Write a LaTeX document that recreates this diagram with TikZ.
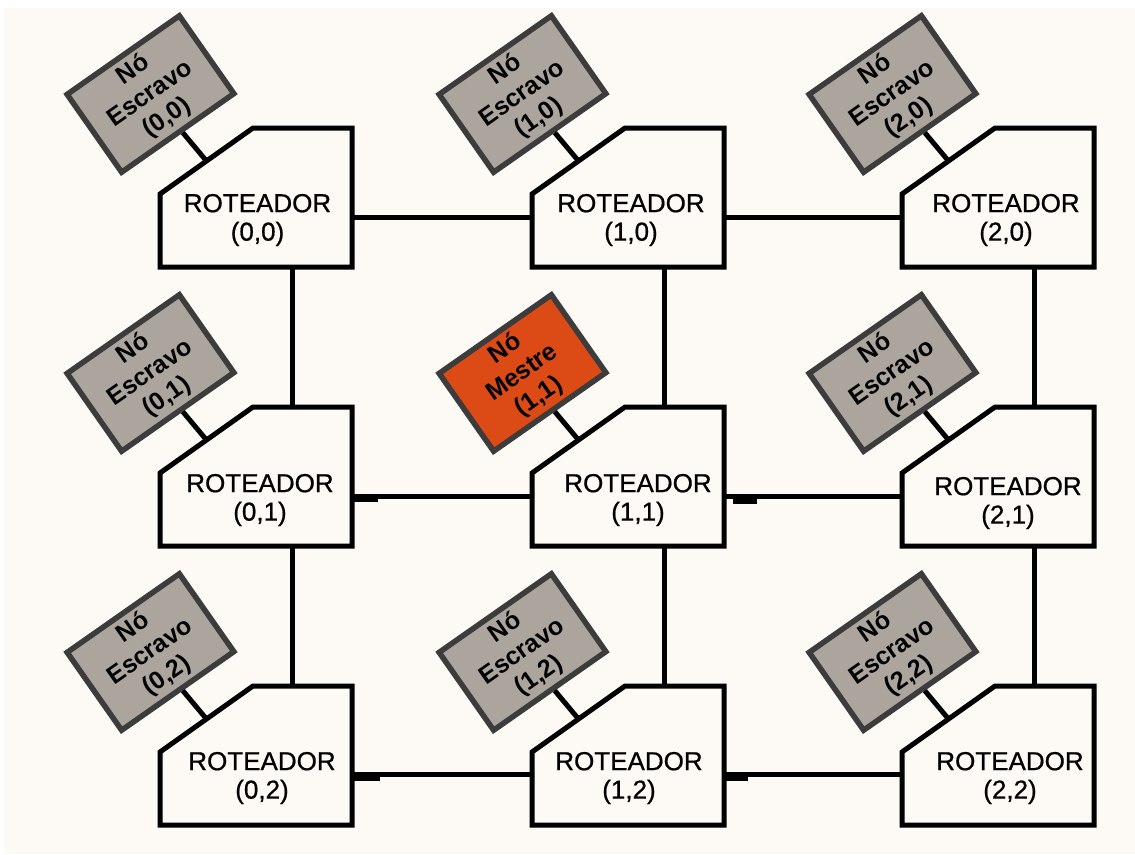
\documentclass[tikz,border=0pt]{standalone}
\usepackage{fontspec}
\setmainfont{Liberation Sans}
\newfontfamily\routerfont[FakeBold=0.7]{Liberation Sans}
\usetikzlibrary{calc}
\definecolor{bg}{HTML}{FDF9F5}
\definecolor{slavefill}{HTML}{ACA59E}
\definecolor{slaveline}{HTML}{3C3C3C}
\definecolor{masterfill}{HTML}{DC4A15}
\begin{document}
\begin{tikzpicture}[x=1pt,y=-1pt,
  router/.style={minimum width=192pt, minimum height=139pt, inner sep=0pt, outer sep=0pt},
  routerline/.style={line width=5pt, line join=miter, fill=bg},
  rlabel/.style={align=center, font=\routerfont\fontsize{26}{28.5}\selectfont, inner sep=0pt},
  slave/.style={rotate=35, draw=slaveline, line width=5.5pt, fill=slavefill, minimum width=137pt, minimum height=95pt, inner sep=0pt, align=center, font=\fontsize{25}{29}\selectfont\bfseries},
  master/.style={slave, fill=masterfill},
  link/.style={line width=5pt},
  stub/.style={line width=8pt},
]
\path[use as bounding box] (0,0) rectangle (1135,854);
\fill[white] (0,0) rectangle (1135,854);
\fill[bg] (4,8) rectangle (1135,854);

% routers
\foreach \c/\cx in {0/256,1/628,2/998}{
  \foreach \r/\ry in {0/197.5,1/476.5,2/755.5}{
    \node[router] (r\c\r) at (\cx,\ry) {};
    \draw[routerline] ($(r\c\r.north west)+(0,66)$) -- ($(r\c\r.north west)+(93,0)$) -- (r\c\r.north east) -- (r\c\r.south east) -- (r\c\r.south west) -- cycle;
    \coordinate (m\c\r) at ($(r\c\r.north west)+(46.5,33)$);
  }
}

% router labels
\node[rlabel] (t00) at ($(r00.north)+(1.5,92)$) {ROTEADOR\\(0,0)};
\node[rlabel] (t10) at ($(r10.north)+(3,92)$) {ROTEADOR\\(1,0)};
\node[rlabel] (t20) at ($(r20.north)+(8,92)$) {ROTEADOR\\(2,0)};
\node[rlabel] (t01) at ($(r01.north)+(4,93)$) {ROTEADOR\\(0,1)};
\node[rlabel] (t11) at ($(r11.north)+(10,93)$) {ROTEADOR\\(1,1)};
\node[rlabel] (t21) at ($(r21.north)+(10,96)$) {ROTEADOR\\(2,1)};
\node[rlabel] (t02) at ($(r02.north)+(6,92)$) {ROTEADOR\\(0,2)};
\node[rlabel] (t12) at ($(r12.north)+(1,92)$) {ROTEADOR\\(1,2)};
\node[rlabel] (t22) at ($(r22.north)+(12,92)$) {ROTEADOR\\(2,2)};

% slave / master nodes
\node[slave] (s00) at ($(r00.north west)+(-9.5,-34)$) {Nó\\Escravo\\(0,0)};
\node[slave] (s10) at ($(r10.north west)+(-9.5,-34)$) {Nó\\Escravo\\(1,0)};
\node[slave] (s20) at ($(r20.north west)+(-9.5,-34)$) {Nó\\Escravo\\(2,0)};
\node[slave] (s01) at ($(r01.north west)+(-9.5,-34)$) {Nó\\Escravo\\(0,1)};
\node[master] (s11) at ($(r11.north west)+(-9.5,-34)$) {Nó\\Mestre\\(1,1)};
\node[slave] (s21) at ($(r21.north west)+(-9.5,-34)$) {Nó\\Escravo\\(2,1)};
\node[slave] (s02) at ($(r02.north west)+(-9.5,-34)$) {Nó\\Escravo\\(0,2)};
\node[slave] (s12) at ($(r12.north west)+(-9.5,-34)$) {Nó\\Escravo\\(1,2)};
\node[slave] (s22) at ($(r22.north west)+(-9.5,-34)$) {Nó\\Escravo\\(2,2)};

\foreach \n in {00,10,20,01,11,21,02,12,22}{
  \draw[link] (m\n) -- (s\n);
}

% horizontal links
\foreach \r/\dy in {0/20,1/20,2/19}{
  \draw[link] ($(r0\r.east)+(0,\dy)$) -- ($(r1\r.west)+(0,\dy)$);
  \draw[link] ($(r1\r.east)+(0,\dy)$) -- ($(r2\r.west)+(0,\dy)$);
}
% vertical links
\foreach \c in {0,1,2}{
  \draw[link] ($(r\c0.south)+(36,0)$) -- ($(r\c1.north)+(36,0)$);
  \draw[link] ($(r\c1.south)+(36,0)$) -- ($(r\c2.north)+(36,0)$);
}
% small stubs
\draw[stub] ($(r01.east)+(0,21)$) -- ++(26,0);
\draw[stub] ($(r11.east)+(9,23)$) -- ++(24,0);
\draw[stub] ($(r02.east)+(2,21.5)$) -- ++(26,0);
\draw[stub] ($(r12.east)+(2,21.5)$) -- ++(22,0);
\end{tikzpicture}
\end{document}
